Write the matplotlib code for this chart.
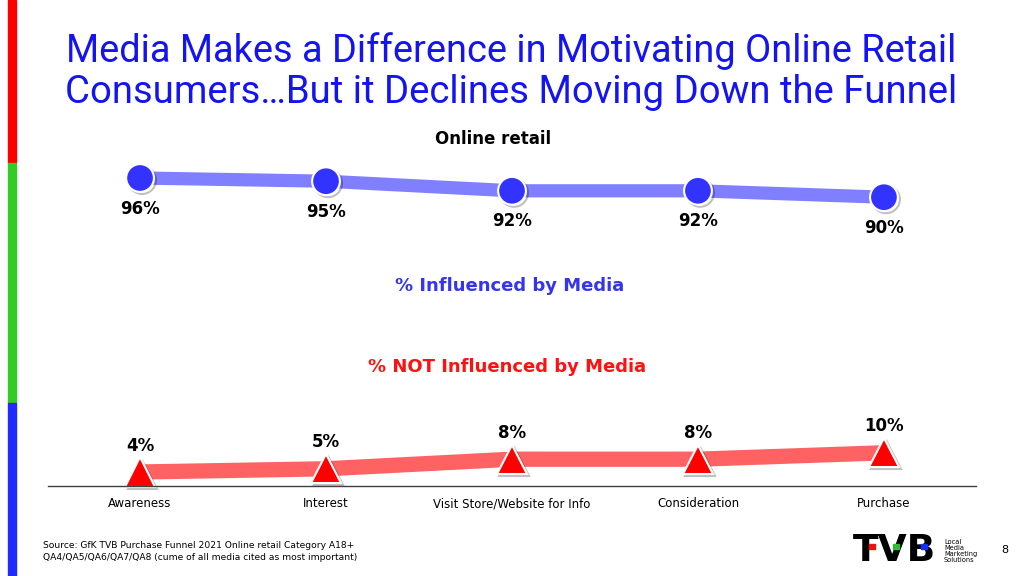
import matplotlib
matplotlib.use("Agg")
import matplotlib.pyplot as plt
import matplotlib.patheffects as pe
from matplotlib.patches import Rectangle

# data
stages = ["Awareness", "Interest", "Visit Store/Website for Info", "Consideration", "Purchase"]
influenced = [96, 95, 92, 92, 90]
not_influenced = [4, 5, 8, 8, 10]

W, H = 1024, 576
fig = plt.figure(figsize=(W / 100, H / 100), dpi=100)
fig.patch.set_facecolor("white")
renderer = fig.canvas.get_renderer()

def fx(px):
    return px / W

def fy(py):
    return 1 - py / H

def fit_width(t, target_px):
    # shrink/grow the font so the text spans about target_px
    w = t.get_window_extent(renderer=renderer).width
    t.set_fontsize(t.get_fontsize() * target_px / w)

# left colour strip
for top, bot, col in [(0, 163, "#FF0000"), (163, 403, "#33CC22"), (403, 576, "#1F2BFF")]:
    fig.patches.append(Rectangle((fx(8), fy(bot)), fx(8), (bot - top) / H,
                                 transform=fig.transFigure, color=col, zorder=0))

# title
t1 = fig.text(fx(511), fy(62), "Media Makes a Difference in Motivating Online Retail",
              ha="center", va="baseline", fontsize=29, color="#1414F0", family="Roboto")
t2 = fig.text(fx(511), fy(103), "Consumers\u2026But it Declines Moving Down the Funnel",
              ha="center", va="baseline", fontsize=29, color="#1414F0", family="Roboto")
fit_width(t1, 891)
fit_width(t2, 894)

fig.text(fx(493), fy(139), "Online retail", ha="center", va="center",
         fontsize=12, fontweight="bold", color="black")

x = list(range(len(stages)))
xlim = (-0.495, 4.495)
shadow = [pe.SimpleLineShadow(offset=(1.5, -1.5), alpha=0.25), pe.Normal()]

# top axes: influenced
ax1 = fig.add_axes([fx(48), fy(230), fx(976) - fx(48), 80 / H])
ax1.plot(x, influenced, color="#7F7FFF", lw=9.5, solid_capstyle="butt", zorder=1)
ax1.plot(x, influenced, "o", ms=20, mfc="#3333FF", mec="white", mew=1.5,
         path_effects=shadow, zorder=2)
for xi, v in zip(x, influenced):
    ax1.annotate(f"{v}%", (xi, v), xytext=(0, -22), textcoords="offset points",
                 ha="center", va="center", fontsize=12, fontweight="bold")
ax1.set_xlim(*xlim)
ax1.set_ylim(79.75, 104.75)
ax1.axis("off")

fig.text(fx(510), fy(286), "% Influenced by Media", ha="center", va="center",
         fontsize=13, fontweight="bold", color="#3535EE")
fig.text(fx(507), fy(367), "% NOT Influenced by Media", ha="center", va="center",
         fontsize=13, fontweight="bold", color="#FF1111")

# bottom axes: not influenced
ax2 = fig.add_axes([fx(48), fy(486), fx(976) - fx(48), 66 / H])
ax2.plot(x, not_influenced, color="#FF6262", lw=11, solid_capstyle="butt", zorder=1)
ax2.plot(x, not_influenced, "^", ms=21, mfc="#FF0000", mec="white", mew=1.5,
         path_effects=shadow, zorder=2, clip_on=False)
for xi, v in zip(x, not_influenced):
    ax2.annotate(f"{v}%", (xi, v), xytext=(0, 19), textcoords="offset points",
                 ha="center", va="center", fontsize=12, fontweight="bold")
ax2.set_xlim(*xlim)
ax2.set_ylim(-0.375, 20.25)
ax2.set_facecolor("none")
for s in ["top", "left", "right"]:
    ax2.spines[s].set_visible(False)
ax2.spines["bottom"].set_color("#404040")
ax2.spines["bottom"].set_linewidth(1)
ax2.set_yticks([])
ax2.set_xticks(x)
ax2.set_xticklabels(stages, fontsize=8.5)
ax2.tick_params(axis="x", length=0, pad=8)

# source
fig.text(fx(43), fy(545), "Source: GfK TVB Purchase Funnel 2021 Online retail Category A18+",
         ha="left", va="center", fontsize=6.6)
fig.text(fx(43), fy(558), "QA4/QA5/QA6/QA7/QA8 (cume of all media cited as most important)",
         ha="left", va="center", fontsize=6.6)

# logo
fig.text(fx(853), fy(551), "TVB", ha="left", va="center", fontsize=27,
         fontweight="bold", color="black", family="DejaVu Sans")
for px, col in [(869, "#EE1111"), (893, "#33BB33"), (921, "#1133EE")]:
    fig.patches.append(Rectangle((fx(px), fy(549)), fx(6), 5 / H,
                                 transform=fig.transFigure, color=col, zorder=5))
fig.text(fx(944), fy(551), "Local\nMedia\nMarketing\nSolutions", ha="left", va="center",
         fontsize=4.8, linespacing=0.95, color="black")
fig.text(fx(1005), fy(550), "8", ha="center", va="center", fontsize=8)

fig.savefig("out.png", dpi=100)
